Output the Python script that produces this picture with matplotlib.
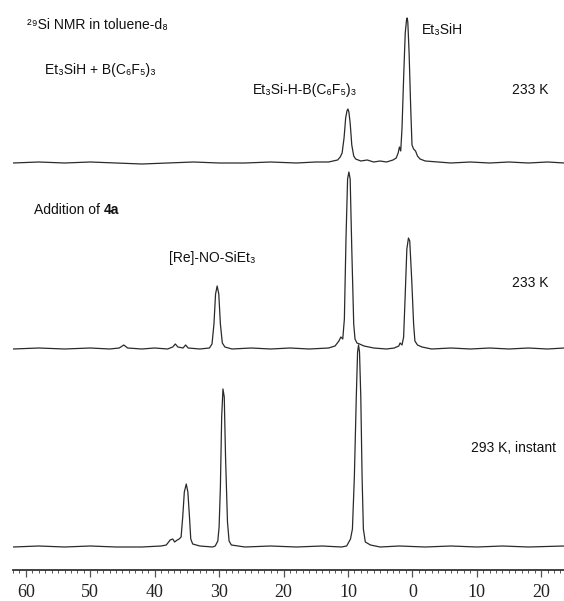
import matplotlib
matplotlib.use("Agg")
import matplotlib.pyplot as plt
from matplotlib.ticker import MultipleLocator, FuncFormatter

# traced spectra: chemical shift (ppm) and height above own baseline (px)
top_ppm = [62, 58, 54, 50, 46, 42, 38, 34, 30, 26, 22, 18, 15, 13, 11.6, 11.2, 10.9, 10.6,
           10.35, 10.15, 10.0, 9.85, 9.65, 9.4, 9.1, 8.8, 8, 7, 6, 5, 4, 3, 2.5, 2.2, 2.0,
           1.8, 1.6, 1.35, 1.1, 0.9, 0.8, 0.7, 0.5, 0.25, 0.05, -0.2, -0.5, -0.8, -1.2, -2,
           -4, -6, -9, -12, -15, -18, -21, -23.6]
top_int = [0, 1, 0, 1, 0, -1, 0, 1, 0, 0, 1, 0, 1, 1, 3, 6, 10, 25,
           45, 52, 54, 51, 40, 18, 7, 4, 2, 3, 1, 2, 1, 3, 5, 10, 16,
           12, 35, 85, 130, 143, 145, 141, 110, 55, 18, 14, 12, 7, 4, 2,
           1, 0, 1, 0, 1, 0, 1, 0]

mid_ppm = [62, 58, 54, 50, 47, 45.5, 44.8, 44.2, 42, 40, 38, 37.2, 36.8, 36.4, 35.6, 35.2,
           34.8, 33, 31.5, 31.1, 30.8, 30.55, 30.3, 30.05, 29.8, 29.5, 29.1, 28, 25, 22, 19,
           16, 13, 12, 11.4, 11.1, 10.8, 10.55, 10.3, 10.05, 9.85, 9.65, 9.4, 9.1, 8.9, 8.6,
           8.2, 7.5, 6, 4, 2.8, 2.1, 1.9, 1.6, 1.35, 1.1, 0.85, 0.6, 0.4, 0.1, -0.2, -0.4,
           -0.8, -1.5, -3, -6, -9, -12, -15, -18, -21, -23.6]
mid_int = [0, 1, 0, 1, 0, 1, 4, 1, 0, 1, 0, 2, 5, 2, 1, 4,
           1, 0, 1, 5, 25, 55, 63, 55, 25, 6, 2, 0, 1, 0, 1,
           0, 1, 3, 8, 12, 10, 30, 110, 170, 177, 170, 100, 25, 10, 6,
           5, 3, 1, 0, 1, 3, 6, 4, 12, 55, 100, 111, 108, 70, 25, 8,
           4, 2, 0, 1, 0, 1, 0, 1, 0, 1]

bot_ppm = [62, 58, 54, 50, 46, 42, 39, 38.2, 37.6, 37.2, 36.9, 36.5, 36.2, 35.9, 35.65,
           35.4, 35.1, 34.85, 34.6, 34.4, 34.1, 33, 31, 30.6, 30.2, 30.0, 29.8, 29.6, 29.4,
           29.2, 29.0, 28.7, 28.45, 28.1, 26, 22, 18, 14, 11, 10.2, 9.6, 9.3, 9.0, 8.7, 8.5,
           8.35, 8.2, 8.0, 7.8, 7.6, 7.3, 6.5, 5, 2, -2, -6, -10, -14, -18, -23.6]
bot_int = [0, 1, 0, 1, 0, 0, 1, 2, 7, 8, 5, 7, 8, 10, 30,
           55, 63, 55, 30, 8, 3, 1, 0, 1, 6, 20, 60, 130, 158,
           150, 90, 25, 6, 2, 0, 1, 0, 1, 0, 1, 8, 18, 70, 150, 195,
           202, 195, 150, 70, 18, 5, 2, 0, 1, 0, 1, 0, 1, 0, 1]

traces = [(top_ppm, top_int), (mid_ppm, mid_int), (bot_ppm, bot_int)]
offsets = [407, 221, 23]

major_ticks = [60, 50, 40, 30, 20, 10, 0, -10, -20]

W, H = 564, 601
fig = plt.figure(figsize=(W / 100, H / 100), dpi=100)
ax = fig.add_axes([13 / W, 31 / H, 1 - 13 / W, 570 / H])

for (ppm, inten), off in zip(traces, offsets):
    ax.plot(ppm, [v + off for v in inten], color="#2a2a2a", lw=0.9)

ax.set_xlim(62.0, -23.55)
ax.set_ylim(0, 570)
for s in ["top", "left", "right"]:
    ax.spines[s].set_visible(False)
ax.spines["bottom"].set_linewidth(1.3)
ax.spines["bottom"].set_color("#333333")
ax.set_yticks([])
ax.set_xticks(major_ticks)
ax.xaxis.set_minor_locator(MultipleLocator(1))
ax.xaxis.set_major_formatter(FuncFormatter(lambda v, p: "%d" % abs(v)))
ax.tick_params(axis="x", which="major", length=5, width=0.9, color="#555555", pad=5)
ax.tick_params(axis="x", which="minor", length=2.2, width=0.7, color="#555555")
for lab in ax.get_xticklabels():
    lab.set_fontfamily(["Liberation Serif", "DejaVu Serif"])
    lab.set_fontsize(13)
    lab.set_color("#222222")

fam = ["Liberation Sans", "DejaVu Sans"]


def label(x, y, s, ha="left", **kw):
    fig.text(x / W, 1 - y / H, s, ha=ha, va="center", family=fam, fontsize=10,
             color="#111111", **kw)


label(27, 25, "²⁹Si NMR in toluene-d₈")
label(45, 70, "Et₃SiH + B(C₆F₅)₃")
label(253, 90, "Et₃Si-H-B(C₆F₅)₃")
label(422, 30, "Et₃SiH")
label(548, 90, "233 K", ha="right")
t = fig.text(34 / W, 1 - 210 / H, "Addition of ", ha="left", va="center", family=fam,
             fontsize=10, color="#111111")
fig.canvas.draw()
bb = t.get_window_extent()
fig.text(bb.x1 / W, 1 - 210 / H, "4a", ha="left", va="center", family=fam,
         fontsize=10, fontweight="bold", color="#111111")
label(212, 258, "[Re]-NO-SiEt₃", ha="center")
label(548, 283, "233 K", ha="right")
label(556, 448, "293 K, instant", ha="right")

fig.savefig("out.png", dpi=100)
